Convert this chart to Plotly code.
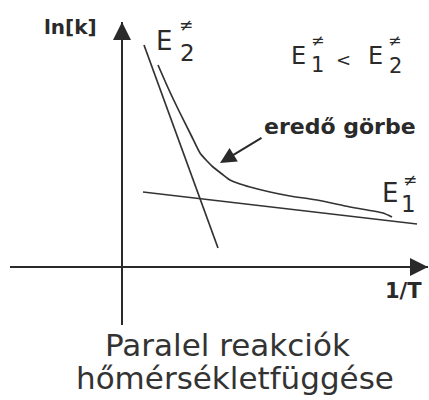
import plotly.graph_objects as go

# ln(k) against 1/T in arbitrary units, origin where the two axes cross
inv_t_e2 = [2.2, 9.6]
lnk_e2 = [22.2, 1.9]

inv_t_e1 = [2.1, 29.5]
lnk_e1 = [7.5, 4.3]

# resultant curve (eredő görbe)
inv_t_sum = [3.6, 4.7, 5.8, 6.9, 7.8, 8.5, 9.1, 10.0, 10.8, 11.8, 12.8,
             14.8, 16.8, 19.5, 22.8, 26.1, 27.0]
lnk_sum = [20.2, 17.7, 15.4, 13.2, 11.4, 10.6, 10.0, 9.3, 8.7, 8.3, 8.0,
           7.5, 7.1, 6.7, 6.0, 5.4, 5.0]

x_range = [-11.2, 30.6]
y_range = [-5.8, 24.5]

W, H = 429, 400
L, R, T, B = 10, 1, 22, 75
INK = "#2a2a2a"
FONT = "DejaVu Sans"


def px(x):
    return (x - L) / (W - L - R)


def py(y):
    return (H - B - y) / (H - T - B)


def label(text, x, y, size, bold=False, color=INK):
    return dict(
        text=text, x=px(x), y=py(y), xref="paper", yref="paper",
        xanchor="center", yanchor="middle", showarrow=False, borderpad=0,
        font=dict(family=FONT, size=size, color=color,
                  weight="bold" if bold else "normal"),
    )


fig = go.Figure()

line_style = dict(color="#333333", width=1.7)
fig.add_trace(go.Scatter(x=inv_t_e2, y=lnk_e2, mode="lines", line=line_style))
fig.add_trace(go.Scatter(x=inv_t_e1, y=lnk_e1, mode="lines", line=line_style))
fig.add_trace(go.Scatter(x=inv_t_sum, y=lnk_sum, mode="lines",
                         line=dict(color="#333333", width=1.7,
                                   shape="spline", smoothing=0.6)))

annotations = [
    # axis arrow heads
    dict(x=0, y=y_range[1], ax=0, ay=y_range[1] - 2.5, xref="x", yref="y",
         axref="x", ayref="y", showarrow=True, arrowhead=2, arrowsize=1.8,
         arrowwidth=2, arrowcolor=INK, text=""),
    dict(x=x_range[1], y=0, ax=x_range[1] - 2.5, ay=0, xref="x", yref="y",
         axref="x", ayref="y", showarrow=True, arrowhead=2, arrowsize=1.8,
         arrowwidth=2, arrowcolor=INK, text=""),
    # pointer to the resultant curve
    dict(x=9.8, y=10.4, ax=14.1, ay=13.0, xref="x", yref="y",
         axref="x", ayref="y", showarrow=True, arrowhead=2, arrowsize=1.6,
         arrowwidth=2, arrowcolor=INK, text=""),

    label("ln[k]", 70, 27, 20, bold=True),
    label("1/T", 403, 291, 21, bold=True),
    label("eredő görbe", 340, 127, 22, bold=True),

    # E2 label near the steep line
    label("E", 164, 41, 26),
    label("≠", 186, 25, 17),
    label("2", 187, 53, 23),

    # E1 label at the right
    label("E", 390, 193, 26),
    label("≠", 410, 180, 17),
    label("1", 408, 204, 23),

    # E1 < E2
    label("E", 298, 56, 24),
    label("≠", 317, 40, 16),
    label("1", 317, 65, 21),
    label("<", 343, 59, 18),
    label("E", 375, 56, 24),
    label("≠", 394, 40, 16),
    label("2", 395, 66, 21),

    # caption
    label("Paralel reakciók", 228, 345, 31, color="#333333"),
    label("hőmérsékletfüggése", 235, 378, 31, color="#333333"),
]

axis_common = dict(showgrid=False, showticklabels=False, ticks="",
                   showline=False, zeroline=True, zerolinecolor=INK,
                   zerolinewidth=2)

fig.update_layout(
    width=W, height=H,
    margin=dict(l=L, r=R, t=T, b=B),
    paper_bgcolor="white", plot_bgcolor="white",
    showlegend=False,
    xaxis=dict(range=x_range, **axis_common),
    yaxis=dict(range=y_range, **axis_common),
    annotations=annotations,
)

# drop the page's default body margin so the figure sits at the top-left corner
fig.write_html("out.html", config={"displayModeBar": False},
               post_script="document.body.style.margin='0';")
